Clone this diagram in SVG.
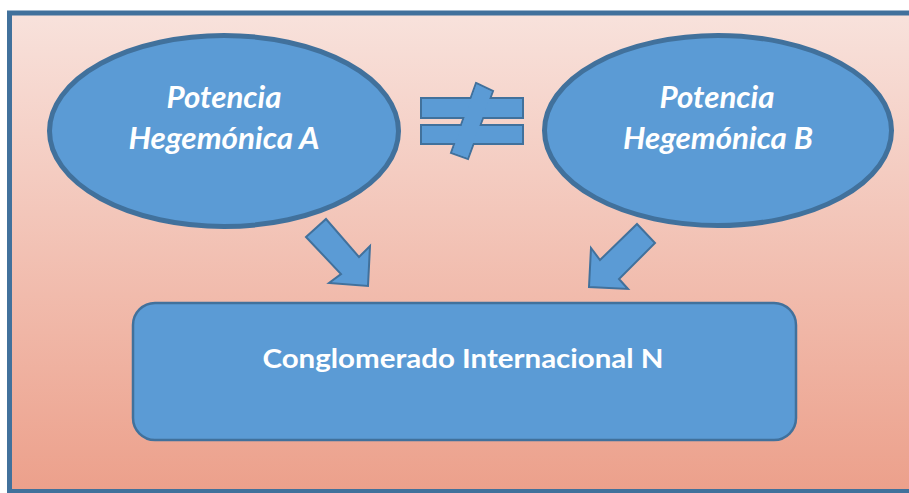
<svg xmlns="http://www.w3.org/2000/svg" width="909" height="493" viewBox="0 0 909 493">
<defs>
<linearGradient id="bg" x1="0" y1="0" x2="0" y2="1">
<stop offset="0" stop-color="#f8e2dc"/>
<stop offset="1" stop-color="#eca08b"/>
</linearGradient>
</defs>
<style>
.shape{fill:#5b9bd5;stroke:#41719c}
.lbl{font-family:Lato,"Open Sans",sans-serif;font-weight:bold;fill:#ffffff;text-anchor:middle}
.it{font-style:italic;font-size:30px}
.fillonly{fill:#5b9bd5;stroke:none}
</style>
<rect x="0" y="0" width="909" height="493" fill="#ffffff"/>
<rect x="9.5" y="13" width="912" height="478.5" fill="url(#bg)" stroke="#41719c" stroke-width="5"/>
<g id="nodeA">
<ellipse class="shape" cx="224" cy="131" rx="174.5" ry="95.5" stroke-width="5"/>
<text class="lbl it" x="224" y="108" textLength="115" lengthAdjust="spacingAndGlyphs">Potencia</text>
<text class="lbl it" x="224" y="149" textLength="191" lengthAdjust="spacingAndGlyphs">Hegemónica A</text>
</g>
<g id="nodeB">
<ellipse class="shape" cx="718" cy="130.5" rx="173.5" ry="95" stroke-width="5"/>
<text class="lbl it" x="717" y="108" textLength="115" lengthAdjust="spacingAndGlyphs">Potencia</text>
<text class="lbl it" x="718" y="149" textLength="190" lengthAdjust="spacingAndGlyphs">Hegemónica B</text>
</g>
<g id="nodeN">
<rect class="shape" x="133" y="303" width="663" height="137" rx="22" ry="22" stroke-width="2.5"/>
<text class="lbl" x="463" y="368" font-size="27" textLength="401" lengthAdjust="spacingAndGlyphs">Conglomerado Internacional N</text>
</g>
<g id="notEqual">
<rect class="shape" x="421" y="98" width="102" height="20" stroke-width="2"/>
<rect class="shape" x="421" y="125" width="102" height="19" stroke-width="2"/>
<polygon class="shape" points="476,83 493,91 468,159 451,153" stroke-width="2"/>
<rect class="fillonly" x="422" y="99" width="100" height="18"/>
<rect class="fillonly" x="422" y="126" width="100" height="17"/>
<polygon class="fillonly" points="476.6,84.3 491.8,91.5 467.4,157.7 452.3,152.3"/>
</g>
<g id="connectors">
<polygon class="shape" stroke-width="2" stroke-linejoin="miter" points="306,237 326,219 359,257 370,246 368,286 329,283 341,274"/>
<polygon class="shape" stroke-width="2" stroke-linejoin="miter" points="637,224 655,243 619,279 628,289 589,287 591,248 600,260"/>
</g>
</svg>
